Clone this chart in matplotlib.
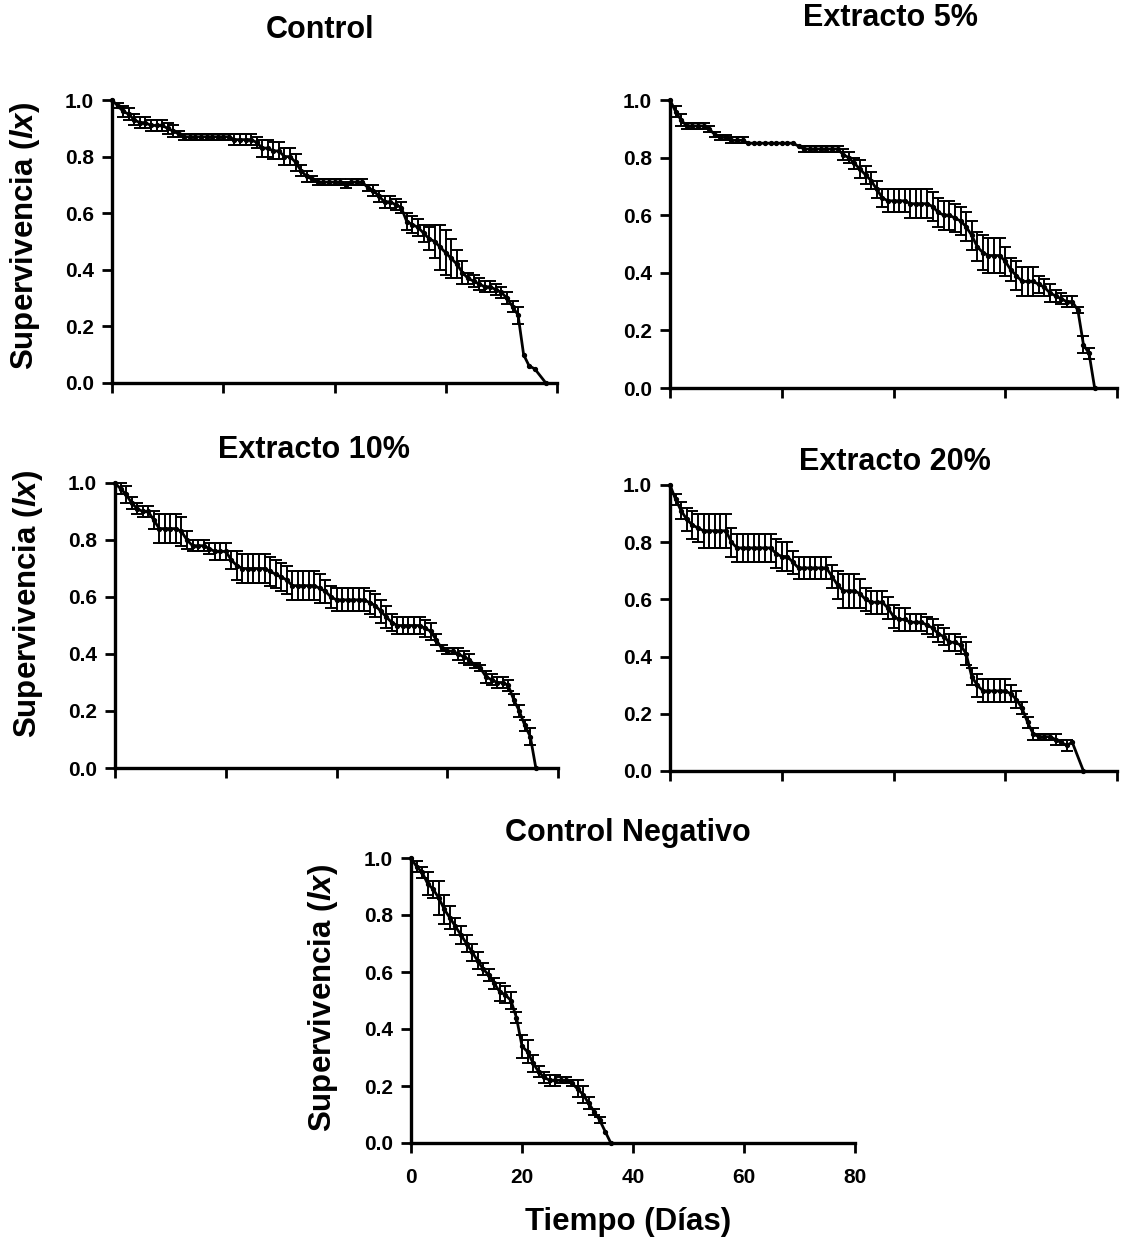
import numpy as np
import matplotlib
matplotlib.use("Agg")
import matplotlib.pyplot as plt

plt.rcParams['font.family'] = ['Liberation Sans', 'DejaVu Sans']
plt.rcParams['font.weight'] = 'bold'
plt.rcParams['mathtext.fontset'] = 'custom'
plt.rcParams['mathtext.rm'] = 'Liberation Sans:bold'
plt.rcParams['mathtext.it'] = 'Liberation Sans:italic:bold'

# ---------------- data ----------------
control_days = list(range(0, 77)) + [78]
control_lx = [1.00, 0.98, 0.96, 0.95, 0.93, 0.92, 0.92, 0.91, 0.91, 0.91,
              0.90, 0.89, 0.88, 0.87, 0.87, 0.87, 0.87, 0.87, 0.87, 0.87,
              0.87, 0.87, 0.86, 0.86, 0.86, 0.86, 0.85, 0.83, 0.83, 0.82,
              0.82, 0.80, 0.80, 0.78, 0.75, 0.73, 0.72, 0.71, 0.71, 0.71,
              0.71, 0.71, 0.70, 0.71, 0.71, 0.71, 0.69, 0.68, 0.66, 0.64,
              0.64, 0.63, 0.62, 0.57, 0.56, 0.55, 0.53, 0.51, 0.50, 0.48,
              0.46, 0.44, 0.42, 0.39, 0.37, 0.36, 0.35, 0.34, 0.34, 0.33,
              0.32, 0.30, 0.27, 0.24, 0.10, 0.06, 0.05, 0.00]
control_se = [0.00, 0.01, 0.02, 0.02, 0.02, 0.02, 0.02, 0.02, 0.02, 0.02,
              0.02, 0.02, 0.01, 0.01, 0.01, 0.01, 0.01, 0.01, 0.01, 0.01,
              0.01, 0.01, 0.02, 0.02, 0.02, 0.02, 0.02, 0.03, 0.03, 0.03,
              0.03, 0.03, 0.03, 0.03, 0.02, 0.02, 0.01, 0.01, 0.01, 0.01,
              0.01, 0.01, 0.01, 0.01, 0.01, 0.01, 0.01, 0.02, 0.02, 0.02,
              0.02, 0.02, 0.02, 0.03, 0.03, 0.03, 0.03, 0.04, 0.06, 0.08,
              0.08, 0.07, 0.05, 0.04, 0.02, 0.02, 0.02, 0.02, 0.02, 0.02,
              0.02, 0.02, 0.02, 0.03, 0.00, 0.00, 0.00, 0.00]

ext5_days = list(range(0, 77))
ext5_lx = [1.00, 0.96, 0.93, 0.91, 0.91, 0.91, 0.91, 0.90, 0.88, 0.87,
           0.87, 0.86, 0.86, 0.86, 0.85, 0.85, 0.85, 0.85, 0.85, 0.85,
           0.85, 0.85, 0.85, 0.84, 0.83, 0.83, 0.83, 0.83, 0.83, 0.83,
           0.83, 0.81, 0.80, 0.78, 0.76, 0.74, 0.72, 0.69, 0.66, 0.65,
           0.65, 0.65, 0.65, 0.64, 0.64, 0.64, 0.64, 0.63, 0.61, 0.60,
           0.60, 0.59, 0.58, 0.56, 0.53, 0.49, 0.47, 0.46, 0.46, 0.46,
           0.44, 0.41, 0.39, 0.37, 0.37, 0.37, 0.36, 0.35, 0.33, 0.32,
           0.31, 0.30, 0.30, 0.27, 0.15, 0.12, 0.00]
ext5_se = [0.00, 0.02, 0.02, 0.01, 0.01, 0.01, 0.01, 0.01, 0.01, 0.01,
           0.01, 0.01, 0.01, 0.01, 0.00, 0.00, 0.00, 0.00, 0.00, 0.00,
           0.00, 0.00, 0.00, 0.00, 0.01, 0.01, 0.01, 0.01, 0.01, 0.01,
           0.01, 0.02, 0.02, 0.02, 0.03, 0.03, 0.03, 0.03, 0.03, 0.04,
           0.04, 0.04, 0.04, 0.05, 0.05, 0.05, 0.05, 0.05, 0.05, 0.05,
           0.05, 0.05, 0.05, 0.05, 0.05, 0.05, 0.06, 0.06, 0.06, 0.06,
           0.05, 0.04, 0.05, 0.05, 0.05, 0.05, 0.03, 0.03, 0.03, 0.02,
           0.02, 0.02, 0.02, 0.01, 0.03, 0.02, 0.00]

ext10_days = list(range(0, 77))
ext10_lx = [1.00, 0.98, 0.96, 0.93, 0.91, 0.90, 0.90, 0.87, 0.84, 0.84,
            0.84, 0.84, 0.83, 0.80, 0.78, 0.78, 0.78, 0.77, 0.76, 0.76,
            0.76, 0.73, 0.71, 0.70, 0.70, 0.70, 0.70, 0.70, 0.69, 0.68,
            0.67, 0.66, 0.64, 0.64, 0.64, 0.64, 0.64, 0.63, 0.62, 0.60,
            0.59, 0.59, 0.59, 0.59, 0.59, 0.59, 0.58, 0.57, 0.55, 0.53,
            0.51, 0.50, 0.50, 0.50, 0.50, 0.50, 0.49, 0.48, 0.45, 0.42,
            0.41, 0.41, 0.40, 0.39, 0.38, 0.36, 0.35, 0.32, 0.31, 0.30,
            0.30, 0.29, 0.24, 0.20, 0.15, 0.11, 0.00]
ext10_se = [0.00, 0.02, 0.03, 0.02, 0.02, 0.02, 0.02, 0.03, 0.05, 0.05,
            0.05, 0.05, 0.05, 0.03, 0.02, 0.02, 0.02, 0.02, 0.03, 0.03,
            0.03, 0.03, 0.05, 0.05, 0.05, 0.05, 0.05, 0.05, 0.05, 0.05,
            0.05, 0.05, 0.05, 0.05, 0.05, 0.05, 0.05, 0.05, 0.04, 0.04,
            0.04, 0.04, 0.04, 0.04, 0.04, 0.04, 0.04, 0.04, 0.04, 0.04,
            0.03, 0.03, 0.03, 0.03, 0.03, 0.03, 0.03, 0.03, 0.02, 0.01,
            0.01, 0.01, 0.02, 0.02, 0.02, 0.01, 0.01, 0.02, 0.02, 0.02,
            0.02, 0.02, 0.02, 0.02, 0.02, 0.03, 0.00]

ext20_days = list(range(0, 73)) + [74]
ext20_lx = [1.00, 0.95, 0.91, 0.88, 0.86, 0.85, 0.84, 0.84, 0.84, 0.84,
            0.84, 0.80, 0.78, 0.78, 0.78, 0.78, 0.78, 0.78, 0.78, 0.76,
            0.75, 0.75, 0.73, 0.71, 0.71, 0.71, 0.71, 0.71, 0.71, 0.68,
            0.65, 0.63, 0.63, 0.63, 0.62, 0.60, 0.59, 0.59, 0.59, 0.57,
            0.54, 0.53, 0.53, 0.52, 0.52, 0.52, 0.51, 0.50, 0.48, 0.47,
            0.45, 0.45, 0.44, 0.41, 0.33, 0.30, 0.28, 0.28, 0.28, 0.28,
            0.28, 0.27, 0.25, 0.22, 0.17, 0.13, 0.12, 0.12, 0.12, 0.11,
            0.10, 0.09, 0.10, 0.00]
ext20_se = [0.00, 0.02, 0.03, 0.04, 0.05, 0.05, 0.06, 0.06, 0.06, 0.06,
            0.06, 0.05, 0.05, 0.05, 0.05, 0.05, 0.05, 0.05, 0.05, 0.05,
            0.05, 0.05, 0.04, 0.04, 0.04, 0.04, 0.04, 0.04, 0.04, 0.04,
            0.05, 0.06, 0.06, 0.06, 0.05, 0.04, 0.04, 0.04, 0.04, 0.04,
            0.04, 0.04, 0.04, 0.03, 0.03, 0.03, 0.03, 0.03, 0.03, 0.03,
            0.03, 0.03, 0.03, 0.04, 0.03, 0.04, 0.04, 0.04, 0.04, 0.04,
            0.04, 0.03, 0.03, 0.02, 0.02, 0.02, 0.01, 0.01, 0.01, 0.02,
            0.01, 0.02, 0.00, 0.00]

neg_days = list(range(0, 37))
neg_lx = [1.00, 0.97, 0.95, 0.91, 0.89, 0.86, 0.82, 0.79, 0.76, 0.73,
          0.70, 0.67, 0.64, 0.61, 0.59, 0.56, 0.53, 0.52, 0.50, 0.44,
          0.34, 0.32, 0.28, 0.25, 0.23, 0.22, 0.22, 0.22, 0.22, 0.21,
          0.19, 0.17, 0.14, 0.11, 0.08, 0.04, 0.00]
neg_se = [0.00, 0.02, 0.02, 0.04, 0.03, 0.06, 0.05, 0.04, 0.03, 0.03,
          0.03, 0.03, 0.03, 0.02, 0.02, 0.02, 0.03, 0.03, 0.03, 0.02,
          0.04, 0.04, 0.03, 0.02, 0.02, 0.02, 0.02, 0.01, 0.01, 0.01,
          0.03, 0.03, 0.02, 0.01, 0.01, 0.00, 0.00]

titles = ["Control", "Extracto 5%", "Extracto 10%", "Extracto 20%", "Control Negativo"]
series = [(control_days, control_lx, control_se),
          (ext5_days, ext5_lx, ext5_se),
          (ext10_days, ext10_lx, ext10_se),
          (ext20_days, ext20_lx, ext20_se),
          (neg_days, neg_lx, neg_se)]
x_ticks = [0, 20, 40, 60, 80]
y_ticks = [0.0, 0.2, 0.4, 0.6, 0.8, 1.0]
y_label = r"Supervivencia ($\mathit{lx}$)"
x_label = "Tiempo (Días)"

# ---------------- layout ----------------
W, H = 1122, 1242
fig = plt.figure(figsize=(W / 100, H / 100), dpi=100)

def box(l, r, t, b):
    return [l / W, 1 - b / H, (r - l) / W, (b - t) / H]

rects = [box(112, 557, 100, 383), box(670, 1117, 100, 388),
         box(115, 558, 483, 768), box(670, 1117, 485, 771),
         box(411, 855, 858, 1143)]
title_pos = [(320, 30), (890, 18), (314, 450), (895, 462), (628, 833)]
ylab_pos = {0: (25, 236), 2: (28, 604), 4: (323, 998)}

for i, (rect, (d, v, e)) in enumerate(zip(rects, series)):
    ax = fig.add_axes(rect)
    d = np.asarray(d, float); v = np.asarray(v, float); e = np.asarray(e, float)
    ax.plot(d, v, '-', color='black', lw=2.0, marker='o', ms=2.8, clip_on=False, zorder=3)
    m = e > 0
    ax.errorbar(d[m], v[m], yerr=e[m], fmt='none', ecolor='black', elinewidth=1.4,
                capsize=4.2, capthick=1.4, clip_on=False, zorder=2)
    ax.set_xlim(0, 80)
    ax.set_ylim(0, 1.0)
    ax.set_xticks(x_ticks)
    ax.set_yticks(y_ticks)
    ax.set_yticklabels([f"{t:.1f}" for t in y_ticks])
    if i == 4:
        ax.set_xticklabels([str(t) for t in x_ticks])
    else:
        ax.set_xticklabels([])
    for s in ['top', 'right']:
        ax.spines[s].set_visible(False)
    for s in ['left', 'bottom']:
        ax.spines[s].set_linewidth(2.4)
    ax.tick_params(axis='y', direction='out', length=7, width=2.0,
                   labelsize=15, pad=6)
    ax.tick_params(axis='x', direction='out', length=7, width=2.0,
                   labelsize=15, pad=11)
    for lab in ax.get_xticklabels() + ax.get_yticklabels():
        lab.set_fontweight('bold')
    tx, ty = title_pos[i]
    fig.text(tx / W, 1 - ty / H, titles[i], ha='center', va='center',
             fontsize=22, fontweight='bold')
    if i in ylab_pos:
        lx_, ly_ = ylab_pos[i]
        fig.text(lx_ / W, 1 - ly_ / H, y_label, ha='center', va='center',
                 rotation=90, fontsize=22.5, fontweight='bold')

fig.text(628 / W, 1 - 1222 / H, x_label, ha='center', va='center',
         fontsize=22.5, fontweight='bold')

fig.savefig("out.png", dpi=100, facecolor='white')
